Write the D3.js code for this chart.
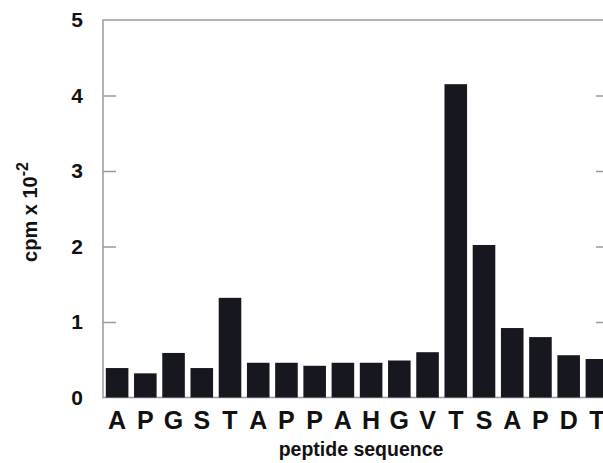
<!DOCTYPE html>
<html>
<head>
<meta charset="utf-8">
<script src="https://cdn.jsdelivr.net/npm/d3@7"></script>
<style>
  body { margin: 0; background: #fff; }
  text { font-family: "Liberation Sans", Arial, sans-serif; font-weight: bold; fill: #111; }
</style>
</head>
<body>
<script>
const residues = ['A','P','G','S','T','A','P','P','A','H','G','V','T','S','A','P','D','T'];
const cpm = [0.39, 0.32, 0.59, 0.39, 1.32, 0.46, 0.46, 0.42, 0.46, 0.46, 0.49, 0.60, 4.15, 2.02, 0.92, 0.80, 0.56, 0.51];
const yTicks = [0, 1, 2, 3, 4, 5];

const W = 603, H = 463;
const margin = {top: 20, left: 103};
const plotRight = 609, plotBottom = 397.5;

const svg = d3.select('body').append('svg')
  .attr('width', W)
  .attr('height', H);

const x = d3.scaleBand()
  .domain(d3.range(residues.length))
  .range([margin.left, plotRight + 2])
  .paddingInner(0.2)
  .paddingOuter(0.1);

const y = d3.scaleLinear()
  .domain([0, 5])
  .range([plotBottom, margin.top]);

// frame
svg.append('rect')
  .attr('x', margin.left)
  .attr('y', margin.top)
  .attr('width', plotRight - margin.left)
  .attr('height', plotBottom - margin.top)
  .attr('fill', 'none')
  .attr('stroke', '#9a9a9a')
  .attr('stroke-width', 1.5);

// inward ticks on both sides
const yAxisL = d3.axisLeft(y).tickValues(yTicks).tickSize(-13).tickPadding(20).tickFormat(d3.format('d'));
const gL = svg.append('g').attr('transform', 'translate(' + margin.left + ',0)').call(yAxisL);
gL.select('.domain').remove();
gL.selectAll('.tick line').attr('stroke', '#9a9a9a').attr('stroke-width', 1.5)
  .filter(d => d === 0 || d === 5).remove();
gL.selectAll('.tick text').style('font-size', '21px').attr('fill', '#111');

const yAxisR = d3.axisRight(y).tickValues(yTicks.filter(d => d > 0 && d < 5)).tickSize(-13).tickFormat('');
const gR = svg.append('g').attr('transform', 'translate(' + plotRight + ',0)').call(yAxisR);
gR.select('.domain').remove();
gR.selectAll('.tick line').attr('stroke', '#9a9a9a').attr('stroke-width', 1.5);

// bars
svg.append('g').selectAll('rect')
  .data(cpm)
  .join('rect')
  .attr('x', (d, i) => x(i))
  .attr('y', d => y(d))
  .attr('width', x.bandwidth())
  .attr('height', d => y(0) - y(d))
  .attr('fill', '#17171f');

// x labels
const xAxis = d3.axisBottom(x).tickSize(0).tickPadding(14).tickFormat(i => residues[i]);
const gX = svg.append('g').attr('transform', 'translate(0,' + plotBottom + ')').call(xAxis);
gX.select('.domain').remove();
gX.selectAll('.tick text').style('font-size', '25px').attr('fill', '#111');

// axis titles
svg.append('text')
  .attr('x', 361)
  .attr('y', 456)
  .attr('text-anchor', 'middle')
  .style('font-size', '19.5px')
  .text('peptide sequence');

const yl = svg.append('text')
  .attr('transform', 'translate(37,212) rotate(-90)')
  .attr('text-anchor', 'middle')
  .style('font-size', '20px');
yl.append('tspan').text('cpm x 10');
yl.append('tspan').attr('dy', -9).style('font-size', '16px').text('-2');
</script>
</body>
</html>
